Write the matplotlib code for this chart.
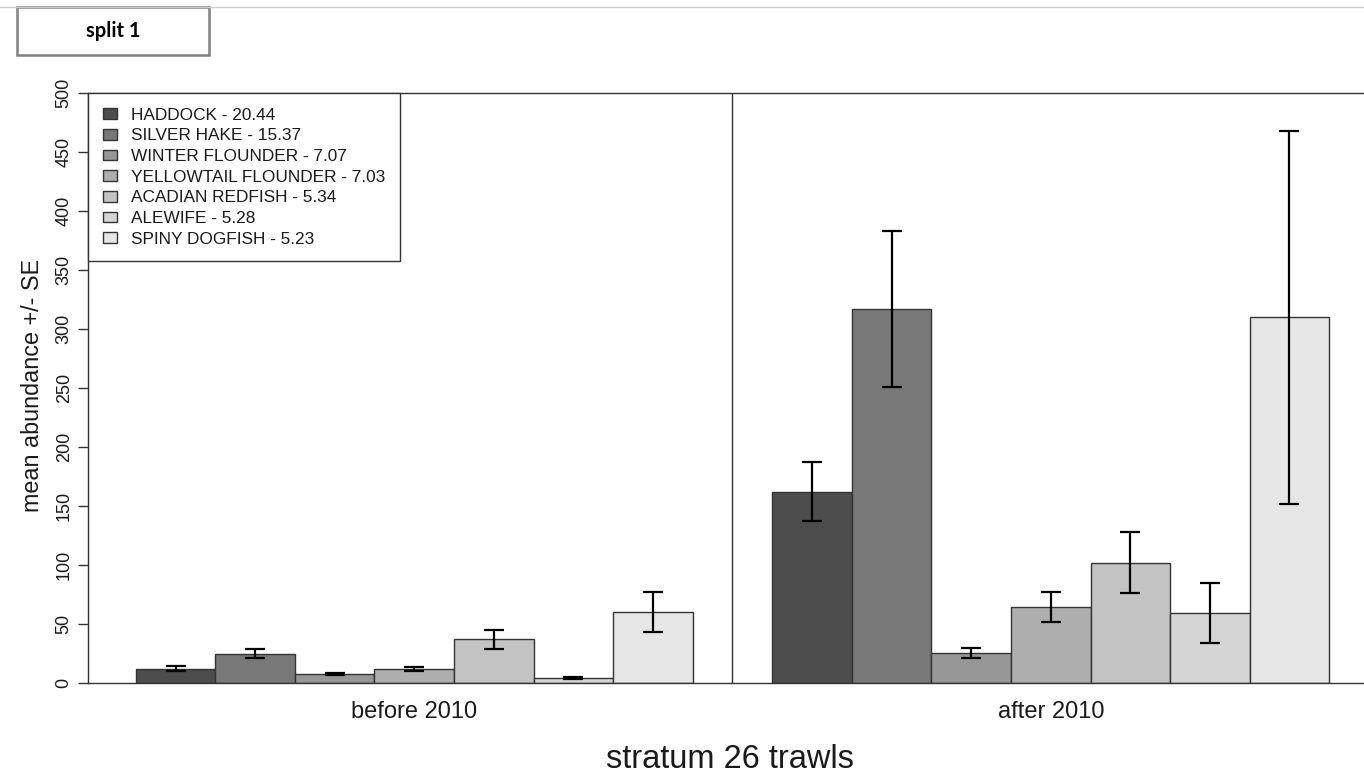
import matplotlib
matplotlib.use("Agg")
import matplotlib.pyplot as plt
from matplotlib.patches import Patch, Rectangle
from matplotlib.lines import Line2D

plt.rcParams['font.family'] = ['Liberation Sans', 'DejaVu Sans']

species = ["HADDOCK", "SILVER HAKE", "WINTER FLOUNDER", "YELLOWTAIL FLOUNDER",
           "ACADIAN REDFISH", "ALEWIFE", "SPINY DOGFISH"]
legend_values = ["20.44", "15.37", "7.07", "7.03", "5.34", "5.28", "5.23"]
groups = ["before 2010", "after 2010"]
before_mean = [12, 25, 7.5, 12, 37, 4, 60]
before_se = [2.2, 3.4, 1.0, 1.5, 8, 1.0, 16.7]
after_mean = [162, 317, 25.5, 64.5, 102, 59, 310]
after_se = [25, 66, 4, 13, 26, 25.5, 158]
colors = ["#4D4D4D", "#787878", "#969696", "#AEAEAE", "#C3C3C3", "#D5D5D5", "#E6E6E6"]
yticks = [0, 50, 100, 150, 200, 250, 300, 350, 400, 450, 500]

W, H = 1364, 776
fig = plt.figure(figsize=(W / 100, H / 100), dpi=100)

# axes: x from 0.4 to 16.6 data units (R barplot default), right edge off-figure
ax_left, ax_right, ax_top, ax_bot = 88, 1377, 93, 683
ax = fig.add_axes([ax_left / W, 1 - ax_bot / H, (ax_right - ax_left) / W, (ax_bot - ax_top) / H])

means_all = [before_mean, after_mean]
se_all = [before_se, after_se]
n = len(species)
for g in range(2):
    xs = [1.5 + g * (n + 1) + i for i in range(n)]
    ax.bar(xs, means_all[g], width=1.0, color=colors, edgecolor="#333333", linewidth=1.0, zorder=2)
    ax.errorbar(xs, means_all[g], yerr=se_all[g], fmt='none', ecolor='black',
                elinewidth=1.6, capsize=7.5, capthick=1.6, zorder=3)

ax.set_xlim(0.4, 2 * (n + 1) + 0.6)
ax.set_ylim(0, 500)
ax.axvline(n + 1.5, color="#333333", linewidth=1.0, zorder=1)

for s in ax.spines.values():
    s.set_color("#333333")
    s.set_linewidth(1.0)

ax.set_yticks(yticks)
ax.set_yticklabels([str(v) for v in yticks], rotation=90, va='center', fontsize=13, color='#1a1a1a')
ax.tick_params(axis='y', length=7, width=1.0, color='#333333', pad=4)

centers = [1 + g * (n + 1) + n / 2 for g in range(2)]
ax.set_xticks(centers)
ax.set_xticklabels(groups, fontsize=17, color='#1a1a1a')
ax.tick_params(axis='x', length=0, pad=13)

fig.text(730 / W, 1 - 760 / H, "stratum 26 trawls", ha='center', va='center', fontsize=23.5, color='#1a1a1a')
fig.text(33 / W, 1 - 385 / H, "mean abundance +/- SE", ha='center', va='center', rotation=90,
         fontsize=16.8, color='#1a1a1a')

handles = [Patch(facecolor=c, edgecolor="#333333", linewidth=1.0) for c in colors]
labels = [f"{s} - {v}" for s, v in zip(species, legend_values)]
leg = ax.legend(handles, labels, loc='upper left', bbox_to_anchor=(0, 1), borderaxespad=0,
                fontsize=12.4, frameon=True, fancybox=False, edgecolor='#333333',
                handlelength=0.82, handleheight=0.58, handletextpad=0.85, labelspacing=0.33,
                borderpad=0.85, framealpha=1)
leg.get_frame().set_linewidth(1.0)
for t in leg.get_texts():
    t.set_color('#1a1a1a')

# top separator line and "split 1" box
fig.add_artist(Line2D([0, 1], [1 - 7 / H, 1 - 7 / H], color='#cccccc', linewidth=1.0))
fig.add_artist(Rectangle((17 / W, 1 - 55 / H), (209 - 17) / W, (55 - 7) / H,
                         facecolor='white', edgecolor='#7f7f7f', linewidth=1.8,
                         transform=fig.transFigure))
fig.text(113 / W, 1 - 31 / H, "split 1", ha='center', va='center', fontsize=14.5,
         fontweight='bold', family=['Lato', 'DejaVu Sans'], color='black')

fig.savefig("out.png", dpi=100)
